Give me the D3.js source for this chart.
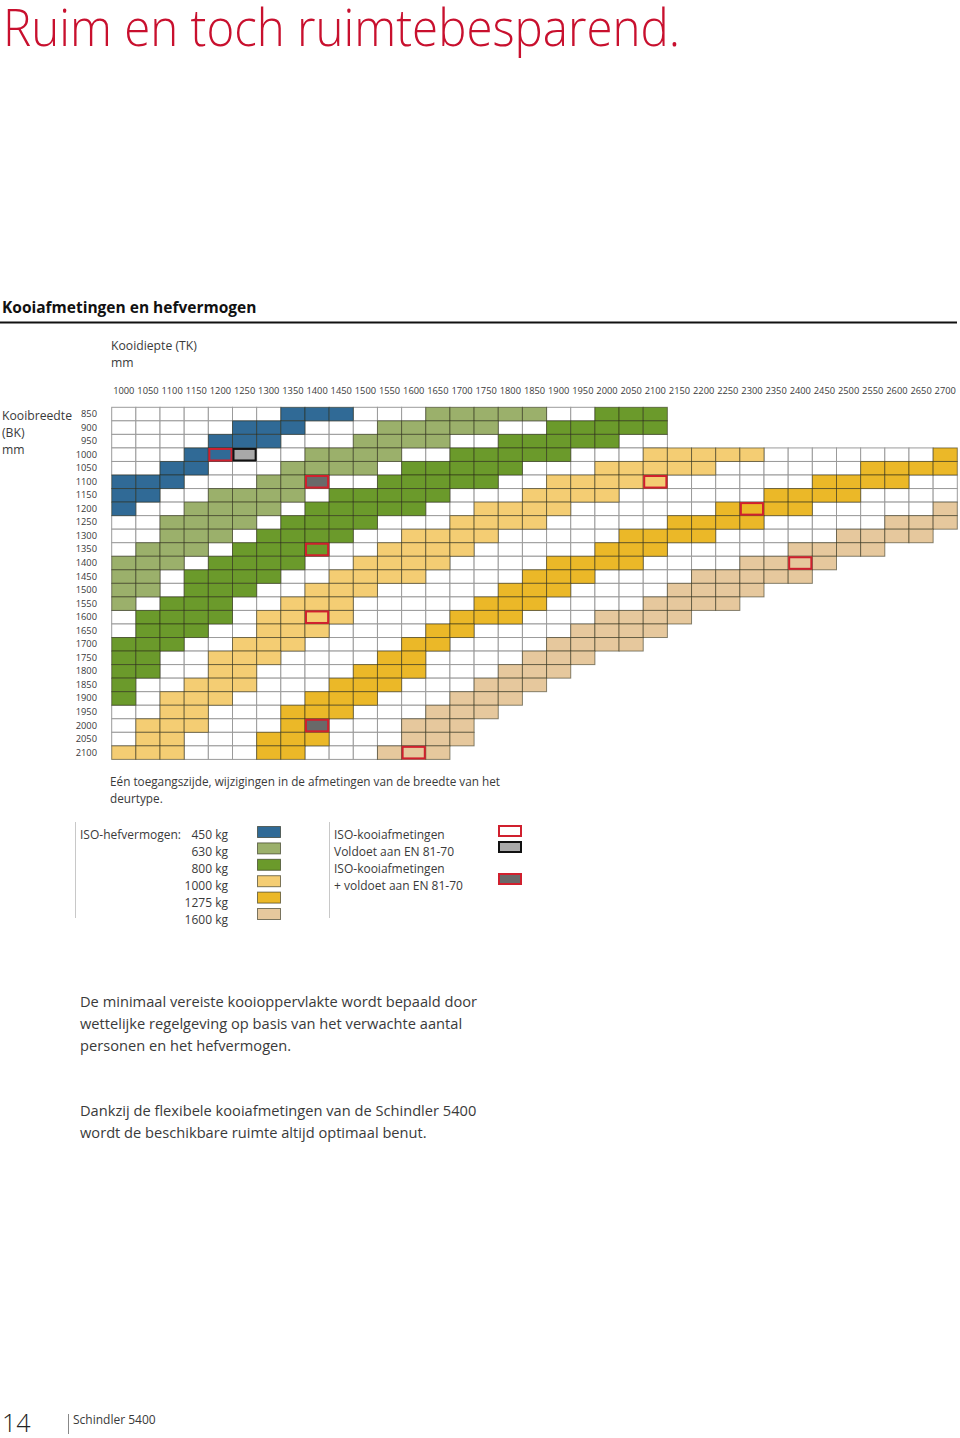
<!DOCTYPE html>
<html><head><meta charset="utf-8">
<script src="https://cdn.jsdelivr.net/npm/d3@7"></script>
<style>
html,body{margin:0;padding:0;background:#fff;}
svg{display:block;}
text{font-family:"Open Sans","Noto Sans",sans-serif;}
</style></head>
<body><svg id="c" width="960" height="1438"></svg>
<script>
// ---- data ----
const depths = d3.range(1000, 2701, 50);          // Kooidiepte (TK) tick labels
const widths = d3.range(850, 2101, 50);           // Kooibreedte (BK) tick labels
// last depth present in each row of the grid
const rowMax = [2100,2100,2100,2700,2700,2700,2700,2700,2700,2650,2550,2450,2400,2300,2250,2150,2100,2050,1950,1900,1850,1800,1750,1700,1700,1650];
// [BK, from TK, to TK]
const band450 = [[850,1350,1450],[900,1250,1350],[950,1200,1300],[1000,1150,1200],[1050,1100,1150],[1100,1000,1100],[1150,1000,1050],[1200,1000,1000]];
const band630 = [[850,1650,1850],[900,1550,1750],[950,1500,1650],[1000,1400,1550],[1050,1350,1500],[1100,1300,1400],[1150,1200,1350],[1200,1150,1300],[1250,1100,1250],[1300,1100,1200],[1350,1050,1150],[1400,1000,1100],[1450,1000,1050],[1500,1000,1050],[1550,1000,1000]];
const band800 = [[850,2000,2100],[900,1900,2100],[950,1800,2000],[1000,1700,1900],[1050,1600,1800],[1100,1550,1750],[1150,1450,1650],[1200,1400,1600],[1250,1350,1500],[1300,1300,1450],[1350,1250,1400],[1400,1200,1350],[1450,1150,1300],[1500,1150,1250],[1550,1100,1200],[1600,1050,1200],[1650,1050,1150],[1700,1000,1100],[1750,1000,1050],[1800,1000,1050],[1850,1000,1000],[1900,1000,1000]];
const band1000 = [[1000,2100,2300],[1050,2000,2200],[1100,1900,2100],[1150,1850,2000],[1200,1750,1900],[1250,1700,1850],[1300,1600,1750],[1350,1550,1700],[1400,1500,1650],[1450,1450,1600],[1500,1400,1500],[1550,1350,1450],[1600,1300,1450],[1650,1300,1400],[1700,1250,1350],[1750,1200,1300],[1800,1200,1250],[1850,1150,1250],[1900,1100,1200],[1950,1100,1150],[2000,1050,1150],[2050,1050,1100],[2100,1000,1100]];
const band1275 = [[1000,2700,2700],[1050,2550,2700],[1100,2450,2600],[1150,2350,2500],[1200,2250,2400],[1250,2150,2300],[1300,2050,2200],[1350,2000,2100],[1400,1900,2050],[1450,1850,1950],[1500,1800,1900],[1550,1750,1850],[1600,1700,1800],[1650,1650,1700],[1700,1600,1650],[1750,1550,1600],[1800,1500,1600],[1850,1450,1550],[1900,1400,1500],[1950,1350,1450],[2000,1350,1400],[2050,1300,1400],[2100,1300,1350]];
const band1600 = [[1200,2700,2700],[1250,2600,2700],[1300,2500,2650],[1350,2400,2550],[1400,2300,2450],[1450,2200,2400],[1500,2150,2300],[1550,2100,2250],[1600,2000,2150],[1650,1950,2100],[1700,1900,2050],[1750,1850,1950],[1800,1800,1900],[1850,1750,1850],[1900,1700,1800],[1950,1650,1750],[2000,1600,1700],[2050,1600,1700],[2100,1550,1650]];
const capacities = ["450 kg","630 kg","800 kg","1000 kg","1275 kg","1600 kg"];
const bands = [band450, band630, band800, band1000, band1275, band1600];
// special cells [BK, TK]
const isoCells = [[1000,1200],[1350,1400],[1600,1400],[1100,2100],[1200,2300],[1400,2400],[2100,1600]];
const enCells = [[1000,1250]];
const isoEnCells = [[1100,1400],[2000,1400]];

// ---- style ----
const capColors = ["#306a96","#9bb06b","#6b9a2b","#f4cd73","#ebb828","#e6c89d"];
const RED = "#d0202e", TXT = "#3a3a3a";

const svg = d3.select("#c");
const x = d3.scaleBand().domain(depths).range([111.7, 957.3]);
const y = d3.scaleBand().domain(widths).range([407.3, 759.4]);
const color = d3.scaleOrdinal().domain(capacities).range(capColors);

// title
svg.append("text").attr("x", 3).attr("y", 46).attr("fill", "#c8102e")
  .attr("font-size", 52).attr("font-weight", 300)
  .attr("textLength", 677).attr("lengthAdjust", "spacingAndGlyphs")
  .text("Ruim en toch ruimtebesparend.");

svg.append("text").attr("x", 2).attr("y", 313).attr("fill", "#111")
  .attr("font-size", 15.5).attr("font-weight", 700).text("Kooiafmetingen en hefvermogen");
svg.append("line").attr("x1", 0).attr("x2", 957).attr("y1", 322.5).attr("y2", 322.5)
  .attr("stroke", "#111").attr("stroke-width", 2);

svg.append("text").attr("x", 111).attr("y", 350).attr("fill", TXT).attr("font-size", 12.2).text("Kooidiepte (TK)");
svg.append("text").attr("x", 111).attr("y", 367).attr("fill", TXT).attr("font-size", 12.2).text("mm");
["Kooibreedte","(BK)","mm"].forEach((t,i)=>svg.append("text").attr("x", 2).attr("y", 420 + i*17)
  .attr("fill", TXT).attr("font-size", 12.2).text(t));

// axes
const ax = svg.append("g").attr("transform", "translate(0,394)")
  .call(d3.axisTop(x).tickSize(0).tickPadding(0));
ax.select(".domain").remove();
ax.selectAll("text").attr("font-size", 9.3).attr("fill", TXT).attr("font-family", '"Open Sans",sans-serif');
const ay = svg.append("g").attr("transform", "translate(97,0)")
  .call(d3.axisLeft(y).tickSize(0).tickPadding(0));
ay.select(".domain").remove();
ay.selectAll("text").attr("font-size", 9.3).attr("fill", TXT).attr("font-family", '"Open Sans",sans-serif');

// build cells
const lookup = new Map();
bands.forEach((b, ci) => b.forEach(([bk, a, z]) => {
  for (let t = a; t <= z; t += 50) lookup.set(bk + "_" + t, capacities[ci]);
}));
const cells = [];
widths.forEach((bk, ri) => depths.forEach(tk => {
  if (tk <= rowMax[ri]) cells.push({bk, tk, cap: lookup.get(bk + "_" + tk)});
}));
const g = svg.append("g");
g.selectAll("rect.w").data(cells.filter(d => !d.cap)).join("rect")
  .attr("x", d => x(d.tk)).attr("y", d => y(d.bk))
  .attr("width", x.bandwidth()).attr("height", y.bandwidth())
  .attr("fill", "#fff").attr("stroke", "#9b9b9b").attr("stroke-width", 1);
g.selectAll("rect.c").data(cells.filter(d => d.cap)).join("rect")
  .attr("x", d => x(d.tk)).attr("y", d => y(d.bk))
  .attr("width", x.bandwidth()).attr("height", y.bandwidth())
  .attr("fill", d => color(d.cap)).attr("stroke", "rgba(40,40,20,0.55)").attr("stroke-width", 1);

function special(list, fill, stroke) {
  g.append("g").selectAll("rect").data(list).join("rect")
    .attr("x", d => x(d[1]) + 1).attr("y", d => y(d[0]) + 1)
    .attr("width", x.bandwidth() - 2).attr("height", y.bandwidth() - 2)
    .attr("fill", fill === null ? "none" : fill).attr("stroke", stroke).attr("stroke-width", 2);
}
special(isoCells, null, RED);
special(enCells, "#a9a9a9", "#111");
special(isoEnCells, "#696969", RED);

// note
svg.append("text").attr("x", 110).attr("y", 786).attr("fill", TXT).attr("font-size", 11.75)
  .text("Eén toegangszijde, wijzigingen in de afmetingen van de breedte van het");
svg.append("text").attr("x", 110).attr("y", 803).attr("fill", TXT).attr("font-size", 11.75).text("deurtype.");

// legend
svg.append("line").attr("x1", 75.5).attr("x2", 75.5).attr("y1", 822).attr("y2", 918).attr("stroke", "#c8c8c8");
svg.append("line").attr("x1", 329.5).attr("x2", 329.5).attr("y1", 822).attr("y2", 918).attr("stroke", "#c8c8c8");
svg.append("text").attr("x", 80).attr("y", 839).attr("fill", TXT).attr("font-size", 12).text("ISO-hefvermogen:");
const lg = svg.append("g");
lg.selectAll("text").data(capacities).join("text")
  .attr("x", 228).attr("y", (d,i) => 839 + i*17).attr("text-anchor", "end")
  .attr("fill", TXT).attr("font-size", 12).text(d => d);
lg.selectAll("rect").data(capacities).join("rect")
  .attr("x", 257.5).attr("y", (d,i) => 826.5 + i*16.4).attr("width", 23).attr("height", 11)
  .attr("fill", d => color(d)).attr("stroke", "rgba(40,40,20,0.6)");
const legTxt = ["ISO-kooiafmetingen","Voldoet aan EN 81-70","ISO-kooiafmetingen","+ voldoet aan EN 81-70"];
legTxt.forEach((t,i)=>svg.append("text").attr("x", 334).attr("y", 839 + i*17).attr("fill", TXT).attr("font-size", 12).text(t));
svg.append("rect").attr("x", 499).attr("y", 826).attr("width", 22).attr("height", 10).attr("fill", "#fff").attr("stroke", RED).attr("stroke-width", 2);
svg.append("rect").attr("x", 499).attr("y", 842).attr("width", 22).attr("height", 10).attr("fill", "#a9a9a9").attr("stroke", "#111").attr("stroke-width", 2);
svg.append("rect").attr("x", 499).attr("y", 874).attr("width", 22).attr("height", 10).attr("fill", "#696969").attr("stroke", RED).attr("stroke-width", 2);

// paragraphs
const p1 = ["De minimaal vereiste kooioppervlakte wordt bepaald door","wettelijke regelgeving op basis van het verwachte aantal","personen en het hefvermogen."];
p1.forEach((t,i)=>svg.append("text").attr("x", 80).attr("y", 1007 + i*22).attr("fill", TXT).attr("font-size", 14.65).text(t));
const p2 = ["Dankzij de flexibele kooiafmetingen van de Schindler 5400","wordt de beschikbare ruimte altijd optimaal benut."];
p2.forEach((t,i)=>svg.append("text").attr("x", 80).attr("y", 1116 + i*22).attr("fill", TXT).attr("font-size", 14.65).text(t));

// footer
svg.append("text").attr("x", 2).attr("y", 1432).attr("fill", "#222").attr("font-size", 25).attr("font-weight", 300).text("14");
svg.append("line").attr("x1", 68.5).attr("x2", 68.5).attr("y1", 1414).attr("y2", 1434).attr("stroke", "#888");
svg.append("text").attr("x", 73).attr("y", 1424).attr("fill", TXT).attr("font-size", 12).text("Schindler 5400");
</script></body></html>
